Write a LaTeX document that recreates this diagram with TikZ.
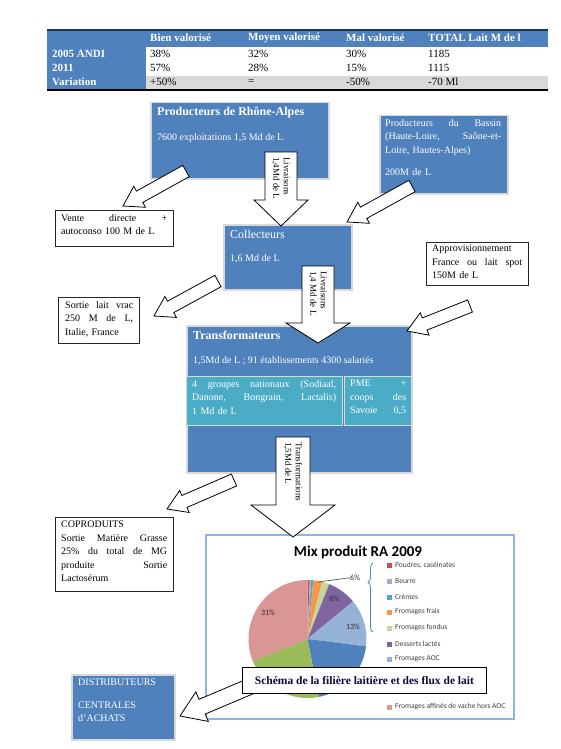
\documentclass[tikz,border=0pt]{standalone}
\usepackage{fontspec}
\setmainfont{Liberation Serif}
\newfontfamily\chartfont{Carlito}
\usetikzlibrary{positioning,calc,decorations.pathreplacing}

\definecolor{boxblue}{HTML}{4F81BD}
\definecolor{boxteal}{HTML}{4BACC6}
\definecolor{tabgrey}{HTML}{D9D9D9}
\definecolor{navyline}{HTML}{17375E}
\definecolor{chartframe}{HTML}{8DB4E2}
\definecolor{captionnavy}{HTML}{0A0A3C}
\definecolor{pieRed}{HTML}{C0504D}
\definecolor{pieLilac}{HTML}{B3A2C7}
\definecolor{pieTeal}{HTML}{4BACC6}
\definecolor{pieOrange}{HTML}{F79646}
\definecolor{pieLime}{HTML}{C3D69B}
\definecolor{piePurple}{HTML}{8064A2}
\definecolor{pieSky}{HTML}{95B3D7}
\definecolor{pieBlue}{HTML}{4F81BD}
\definecolor{pieGreen}{HTML}{9BBB59}
\definecolor{piePink}{HTML}{D99694}

\tikzset{
  bluebox/.style={draw=black!15, line width=1.5pt, fill=boxblue, anchor=north west, inner sep=0pt},
  tealbox/.style={draw=white!85!black, line width=1.2pt, fill=boxteal, anchor=north west, inner sep=0pt},
  notebox/.style={draw=black!85, line width=0.9pt, fill=white, anchor=north west, inner sep=0pt},
  boxtitle/.style={text=white, font=\fontsize{12}{14}\selectfont\bfseries, inner sep=0pt, anchor=north west},
  boxname/.style={text=white, font=\fontsize{12}{14}\selectfont, inner sep=0pt, anchor=north west},
  boxtext/.style={text=white, font=\fontsize{10}{13.5}\selectfont, inner sep=0pt, anchor=north west, align=left},
  notetext/.style={font=\fontsize{10}{13.5}\selectfont, inner sep=0pt, anchor=north west, align=left},
  flow/.style={draw=black, fill=white, line width=0.8pt, line join=miter},
  flowtext/.style={font=\fontsize{9}{10.5}\selectfont, rotate=-90, align=left, inner sep=0pt, anchor=west},
  tabhead/.style={text=white, font=\fontsize{11}{13}\selectfont\bfseries, anchor=west, inner sep=0pt},
  tabcell/.style={font=\fontsize{11}{13}\selectfont, anchor=west, inner sep=0pt},
  legend/.style={font=\chartfont\fontsize{7.5}{8}\selectfont, text=black!75, anchor=west, inner sep=0pt},
  pielabel/.style={font=\chartfont\fontsize{8}{9}\selectfont, text=black!80, inner sep=0pt},
}

% one justified line: width, words
\newcommand{\jline}[2]{\leavevmode\hbox to #1{\spaceskip=.25em plus 1fil\relax #2}}

% block arrow: start, tip, half shaft, half head, head length
\newcommand{\flowarrow}[5]{%
  \coordinate (fh) at ($(#2)!#5!(#1)$);
  \draw[flow] ($(#1)!#3!90:(#2)$) -- ($(fh)!#3!90:(#2)$) -- ($(fh)!#4!90:(#2)$) -- (#2)
    -- ($(fh)!#4!-90:(#2)$) -- ($(fh)!#3!-90:(#2)$) -- ($(#1)!#3!-90:(#2)$) -- cycle;
}

\begin{document}
\begin{tikzpicture}[x=1pt,y=-1pt]
    \useasboundingbox (0,0) rectangle (560,749);

    % table
    \fill [color=boxblue] (47,31) rectangle (548,47);
    \fill [color=boxblue] (47,47) rectangle (146,89);
    \fill [color=tabgrey] (146,76) rectangle (548,89);
    \draw [navyline, line width=2pt] (47,30) -- (548,30);
    \draw [black, line width=2pt] (47,90) -- (548,90);
    \node[tabhead] at (150,38) {Bien valorisé};
    \node[tabhead] at (248,38) {Moyen valorisé};
    \node[tabhead] at (346,38) {Mal valorisé};
    \node[tabhead] at (428,38) {TOTAL Lait M de l};
    \node[tabhead] at (52,54) {2005 ANDI};
    \node[tabhead] at (52,68) {2011};
    \node[tabhead] at (52,82) {Variation};
    \node[tabcell] at (150,54) {38\%};
    \node[tabcell] at (248,54) {32\%};
    \node[tabcell] at (346,54) {30\%};
    \node[tabcell] at (428,54) {1185};
    \node[tabcell] at (150,68) {57\%};
    \node[tabcell] at (248,68) {28\%};
    \node[tabcell] at (346,68) {15\%};
    \node[tabcell] at (428,68) {1115};
    \node[tabcell] at (150,82) {+50\%};
    \node[tabcell] at (248,82) {=};
    \node[tabcell] at (346,82) {-50\%};
    \node[tabcell] at (428,82) {-70 Ml};

    % blue boxes
    \node[bluebox, minimum width=178pt, minimum height=76pt] (rhone) at (150,102) {};
    \node[boxtitle, below right=5pt and 7pt of rhone.north west] (rhonetitle) {Producteurs de Rhône-Alpes};
    \node[boxtext, below right=31pt and 7pt of rhone.north west] (rhonetext) {7600 exploitations 1,5 Md de L};

    \node[bluebox, minimum width=128pt, minimum height=78pt] (bassin) at (379,115) {};
    \node[boxtext, text width=116pt, below right=4pt and 6pt of bassin.north west] (bassintext)
      {\jline{116pt}{Producteurs du Bassin}\\
       \jline{116pt}{(Haute-Loire, Saône-et-}\\
       Loire, Hautes-Alpes)\\[9pt]
       200M de L};

    \node[bluebox, minimum width=128pt, minimum height=65pt] (collect) at (223,224) {};
    \node[boxname, below right=6pt and 7pt of collect.north west] (collecttitle) {Collecteurs};
    \node[boxtext, below right=30pt and 7pt of collect.north west] (collecttext) {1,6 Md de L};

    \node[bluebox, minimum width=225pt, minimum height=147pt] (transfo) at (186,325) {};
    \node[boxtitle, below right=6pt and 7pt of transfo.north west] (transfotitle) {Transformateurs};
    \node[boxtext, below right=31pt and 7pt of transfo.north west] (transfotext) {1,5Md de L ; 91 établissements 4300 salariés};
    \node[tealbox, minimum width=156pt, minimum height=49pt] (groupes) at (186,376) {};
    \node[boxtext, text width=144pt, below right=4pt and 6pt of groupes.north west] (groupestext)
      {\jline{144pt}{4 groupes nationaux (Sodiaal,}\\
       \jline{144pt}{Danone, Bongrain, Lactalis)}\\
       1 Md de L};
    \node[tealbox, minimum width=67pt, minimum height=49pt] (pme) at (344,376) {};
    \node[boxtext, text width=56pt, below right=4pt and 6pt of pme.north west] (pmetext)
      {\jline{56pt}{PME +}\\
       \jline{56pt}{coops des}\\
       \jline{56pt}{Savoie 0,5}};

    \node[bluebox, minimum width=103pt, minimum height=65pt] (distrib) at (71,674) {};
    \node[boxtext, below right=5pt and 7pt of distrib.north west] (distribtext)
      {DISTRIBUTEURS\\[9pt] CENTRALES\\ d'ACHATS};

    % white boxes
    \node[notebox, minimum width=118pt, minimum height=36pt] (vente) at (55,210) {};
    \node[notetext, text width=106pt, below right=4pt and 6pt of vente.north west] (ventetext)
      {\jline{106pt}{Vente directe +}\\ autoconso 100 M de L};

    \node[notebox, minimum width=81pt, minimum height=46pt] (vrac) at (58,297) {};
    \node[notetext, text width=68pt, below right=4pt and 7pt of vrac.north west] (vractext)
      {\jline{68pt}{Sortie lait vrac}\\
       \jline{68pt}{250 M de L,}\\
       Italie, France};

    \node[notebox, minimum width=102pt, minimum height=43pt] (appro) at (426,242) {};
    \node[notetext, text width=90pt, below right=3pt and 6pt of appro.north west] (approtext)
      {Approvisionnement\\
       \jline{90pt}{France ou lait spot}\\
       150M de L};

    \node[notebox, minimum width=118pt, minimum height=74pt] (copro) at (55,517) {};
    \node[notetext, text width=106pt, below right=4pt and 6pt of copro.north west] (coprotext)
      {COPRODUITS\\
       \jline{106pt}{Sortie Matière Grasse}\\
       \jline{106pt}{25\% du total de MG}\\
       \jline{106pt}{produite Sortie}\\
       Lactosérum};

    % chart
    \node[draw=chartframe, line width=1.5pt, fill=white, anchor=north west, inner sep=0pt,
          minimum width=308pt, minimum height=184pt] (chart) at (205,534) {};
    \node[font=\chartfont\fontsize{15}{17}\selectfont\bfseries, inner sep=0pt] (charttitle) at (358,552) {Mix produit RA 2009};
    \coordinate (pc) at (307.5,639);
    \fill [color=pieRed] (pc) -- ++(-90:59) arc[start angle=-90, end angle=-87.84, radius=59] -- cycle;
    \fill [color=pieLilac] (pc) -- ++(-87.84:59) arc[start angle=-87.84, end angle=-86.4, radius=59] -- cycle;
    \fill [color=pieTeal] (pc) -- ++(-86.4:59) arc[start angle=-86.4, end angle=-84.24, radius=59] -- cycle;
    \fill [color=pieOrange] (pc) -- ++(-84.24:59) arc[start angle=-84.24, end angle=-75.6, radius=59] -- cycle;
    \fill [color=pieLime] (pc) -- ++(-75.6:59) arc[start angle=-75.6, end angle=-68.4, radius=59] -- cycle;
    \fill [color=piePurple] (pc) -- ++(-68.4:59) arc[start angle=-68.4, end angle=-39.6, radius=59] -- cycle;
    \fill [color=pieSky] (pc) -- ++(-39.6:59) arc[start angle=-39.6, end angle=7.2, radius=59] -- cycle;
    \fill [color=pieBlue] (pc) -- ++(7.2:59) arc[start angle=7.2, end angle=79.2, radius=59] -- cycle;
    \fill [color=pieGreen] (pc) -- ++(79.2:59) arc[start angle=79.2, end angle=158.4, radius=59] -- cycle;
    \fill [color=piePink] (pc) -- ++(158.4:59) arc[start angle=158.4, end angle=270, radius=59] -- cycle;
    \node[pielabel] (lab31) at (268,613) {31\%};
    \node[pielabel] (lab8) at (334,599) {8\%};
    \node[pielabel] (lab13) at (353,627) {13\%};
    \node[pielabel, anchor=west] (lab6) at (350,578) {6\%};
    \coordinate (smallslices) at (318,582);
    \draw [black!60, line width=0.8pt] (lab6.west) -- ++(-2,0) -- (smallslices);
    \draw [boxblue, line width=0.8pt, decorate, decoration={brace, amplitude=5pt, aspect=0.72}] (373,632) -- (373,563);
    \fill [color=pieRed] (387,562.5) rectangle ++(5,5);
    \node[legend] at (395,565) {Poudres, caséinates};
    \fill [color=pieLilac] (387,578.5) rectangle ++(5,5);
    \node[legend] at (395,581) {Beurre};
    \fill [color=pieTeal] (387,594.5) rectangle ++(5,5);
    \node[legend] at (395,597) {Crèmes};
    \fill [color=pieOrange] (387,609.5) rectangle ++(5,5);
    \node[legend] at (395,612) {Fromages frais};
    \fill [color=pieLime] (387,625.5) rectangle ++(5,5);
    \node[legend] at (395,628) {Fromages fondus};
    \fill [color=piePurple] (387,641.5) rectangle ++(5,5);
    \node[legend] at (395,644) {Desserts lactés};
    \fill [color=pieSky] (387,656.5) rectangle ++(5,5);
    \node[legend] at (395,659) {Fromages AOC};
    \fill [color=piePink] (387,704.5) rectangle ++(5,5);
    \node[legend] at (395,707) {Fromages affinés de vache hors AOC};

    % flows
    \coordinate (a1s) at (281,152);
    \coordinate (a1t) at (281,226);
    \coordinate (a2s) at (318,266);
    \coordinate (a2t) at (318,343);
    \coordinate (a3s) at (293,437);
    \coordinate (a3t) at (293,537);
    \coordinate (a4s) at (186,171);
    \coordinate (a4t) at (123,206);
    \coordinate (a5s) at (412,186);
    \coordinate (a5t) at (347,222);
    \coordinate (a6s) at (218,281);
    \coordinate (a6t) at (154,316);
    \coordinate (a7s) at (470,306);
    \coordinate (a7t) at (407,331);
    \coordinate (a8s) at (234,480);
    \coordinate (a8t) at (167,509);
    \coordinate (a9s) at (270,678);
    \coordinate (a9t) at (180,716);
    \flowarrow{a1s}{a1t}{16pt}{27pt}{26pt}
    \flowarrow{a2s}{a2t}{16pt}{32pt}{20pt}
    \flowarrow{a3s}{a3t}{17pt}{42pt}{32pt}
    \flowarrow{a4s}{a4t}{6.5pt}{12pt}{19pt}
    \flowarrow{a5s}{a5t}{6.5pt}{12pt}{19pt}
    \flowarrow{a6s}{a6t}{6.5pt}{12pt}{19pt}
    \flowarrow{a7s}{a7t}{6.5pt}{12pt}{19pt}
    \flowarrow{a8s}{a8t}{6.5pt}{12pt}{19pt}
    \flowarrow{a9s}{a9t}{8pt}{16pt}{24pt}
    \node[flowtext] (a1text) at ([yshift=-5pt]a1s) {Livraisons\\1,4Md de L};
    \node[flowtext] (a2text) at ([yshift=-5pt]a2s) {Livraisons\\1,4 Md de L};
    \node[flowtext] (a3text) at ([yshift=-5pt]a3s) {Transformations\\1,5Md de L};

    % caption
    \node[draw=black, line width=0.9pt, fill=white, minimum width=244pt, minimum height=26pt, anchor=north west,
          font=\fontsize{11.5}{13}\selectfont\bfseries, text=captionnavy] (caption) at (242,667)
      {Schéma de la filière laitière et des flux de lait};
\end{tikzpicture}
\end{document}
